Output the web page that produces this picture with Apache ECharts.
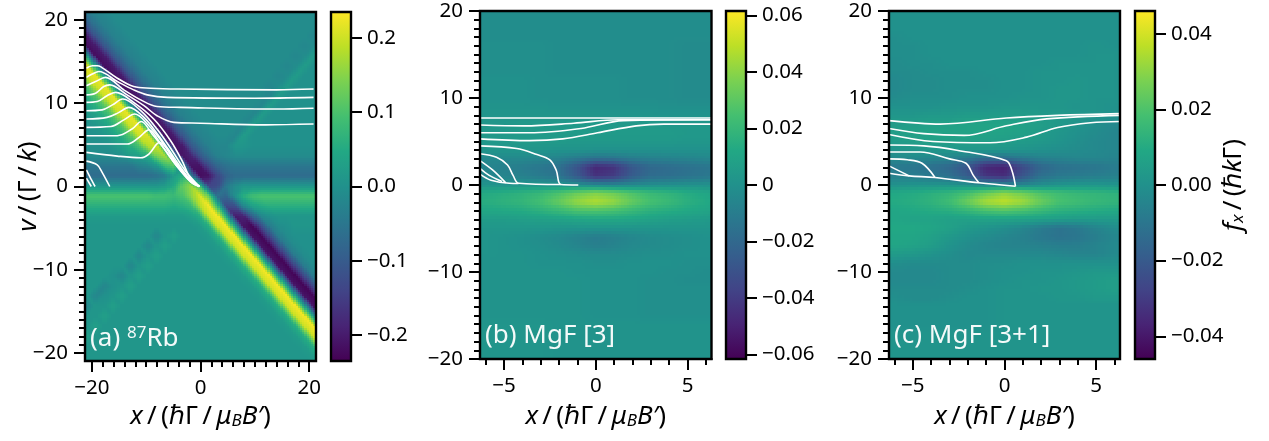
<!DOCTYPE html>
<html><head><meta charset="utf-8">
<style>html,body{margin:0;padding:0;background:#fff}#c{width:1269px;height:441px}</style>
<script src="https://cdn.jsdelivr.net/npm/echarts@6/dist/echarts.min.js"></script>
</head><body><div id="c"></div>
<script>
const viridis=['#440154','#482475','#414487','#355f8d','#2a788e','#21918c','#22a884','#44bf70','#7ad151','#bddf26','#fde725'];

/* (a) 87Rb: force in units of 0.01; rows top to bottom */
const rbX=[-22.4,-20.8,-19.2,-17.6,-16,-14.4,-12.8,-11.2,-9.6,-8,-6.4,-4.8,-3.2,-1.6,0,1.6,3.2,4.8,6.4,8,9.6,11.2,12.8,14.4,16,17.6,19.2,20.8,22.4];
const rbV=[21.6,20.4,19.2,18,16.8,15.6,14.4,13.2,12,10.8,9.6,8.4,7.2,6,4.8,3.6,2.4,1.2,0,-1.2,-2.4,-3.6,-4.8,-6,-7.2,-8.4,-9.6,-10.8,-12,-13.2,-14.4,-15.6,-16.8,-18,-19.2,-20.4,-21.6];
const rbForce=[
[-6,-3,-2,-1,-1,-1,-1,-1,-1,-1,-1,-1,-1,-1,-1,-1,-1,-1,-1,-1,-1,-1,-1,-1,-1,-1,-1,-1,-1],
[-11,-6,-3,-2,-1,-1,-1,-1,-1,-1,-1,-1,-1,-1,-1,-1,-1,-1,-1,-1,-1,-1,-1,-1,-1,-1,-1,-1,-1],
[-20,-11,-6,-3,-2,-1,-1,-1,-1,-1,-1,-1,-1,-1,-1,-1,-1,-1,-1,-1,-1,-1,-1,-1,-1,-1,-1,-1,-2],
[-22,-20,-11,-6,-3,-2,-1,-1,-1,-1,-1,-1,-1,-1,-1,-1,-1,-1,-1,-1,-1,-1,-1,-1,-1,-1,-1,-2,-1],
[3,-22,-20,-11,-6,-3,-2,-1,-1,-1,-1,-1,-1,-1,-1,-1,-1,-1,-1,-1,-1,-1,-1,-1,-1,-1,-2,-1,2],
[22,3,-22,-20,-11,-6,-3,-2,-1,-1,-1,-1,-1,-1,-1,-1,-1,-1,-1,-1,-1,-1,-1,-1,-1,-2,-1,2,0],
[20,22,3,-22,-20,-11,-6,-3,-2,-1,-1,-1,-1,-1,-1,-1,-1,-1,-1,-1,-1,-1,-1,-1,-2,-1,2,0,0],
[11,20,22,3,-22,-20,-11,-6,-3,-2,-1,-1,-1,-1,-1,-1,-1,-1,-1,-1,-1,-1,-1,-2,-1,2,0,0,0],
[6,11,20,22,3,-22,-20,-11,-6,-3,-2,-1,-1,-1,-1,-1,-1,-1,-1,-1,-1,-1,-2,-1,2,0,0,0,0],
[3,6,11,20,22,3,-22,-20,-11,-6,-3,-2,-1,-1,-1,-1,-1,-1,-1,-1,-1,-1,-2,2,0,0,0,0,0],
[1,3,6,11,20,22,3,-22,-20,-11,-6,-3,-2,-1,-1,-1,-1,-1,-1,-1,-1,-2,2,0,0,0,0,0,0],
[0,1,3,6,11,20,22,3,-22,-20,-11,-6,-3,-2,-1,-1,-1,-1,-1,-1,-2,2,0,0,0,0,0,0,0],
[0,0,1,3,6,11,20,22,3,-22,-20,-11,-6,-3,-2,-1,-1,-1,-1,-2,2,0,0,0,0,0,0,0,0],
[0,0,0,1,3,6,11,20,21,3,-22,-20,-11,-6,-3,-2,-1,-1,-2,2,0,0,0,0,0,0,0,0,0],
[-1,0,0,0,1,3,6,10,18,20,2,-22,-20,-11,-6,-3,-2,-2,1,1,0,0,0,0,0,0,0,0,0],
[-1,-1,-1,-1,-1,0,2,3,6,14,17,2,-21,-19,-11,-6,-3,-2,-1,-1,-1,-1,-1,-1,-1,-1,-1,-1,-1],
[-5,-5,-5,-5,-5,-5,-5,-3,-2,1,8,11,0,-21,-21,-13,-8,-6,-5,-5,-5,-5,-5,-5,-5,-5,-5,-5,-5],
[-7,-7,-7,-7,-7,-7,-7,-7,-7,-6,-4,2,6,-3,-22,-21,-14,-9,-7,-7,-7,-7,-7,-7,-7,-7,-7,-7,-7],
[1,1,1,1,1,1,1,1,1,1,2,5,12,16,9,-14,-13,-5,-1,1,1,1,1,1,1,1,1,1,1],
[10,10,10,10,10,10,10,10,10,9,9,8,10,15,21,12,-6,-8,0,6,9,10,10,10,10,10,10,10,10],
[6,6,6,6,6,6,6,6,6,6,6,5,6,8,18,23,8,-13,-12,-2,3,5,6,6,6,6,6,6,6],
[2,2,2,2,2,2,2,2,2,2,2,2,2,3,6,20,23,5,-20,-19,-9,-2,0,1,1,1,1,1,1],
[1,1,1,1,1,1,1,1,1,1,1,1,1,1,2,6,20,23,3,-21,-23,-13,-4,-1,0,1,1,1,1],
[1,1,1,1,1,1,1,1,1,-2,1,3,1,1,1,2,6,20,23,3,-21,-23,-13,-4,-1,0,0,0,0],
[1,1,1,1,1,1,1,1,-2,1,3,1,1,1,1,1,2,6,20,23,3,-21,-23,-13,-4,-1,0,0,0],
[1,1,1,1,1,1,1,-2,1,3,1,1,1,1,1,1,1,2,6,20,23,3,-21,-23,-13,-4,-1,0,0],
[1,1,1,1,1,1,-2,1,3,1,1,1,1,1,1,1,1,1,2,6,20,23,3,-21,-23,-13,-4,-1,0],
[1,1,1,1,0,-2,1,3,1,1,1,1,1,1,1,1,1,1,1,2,6,20,23,3,-21,-23,-13,-4,-1],
[1,1,1,-2,0,1,3,1,1,1,1,1,1,1,1,1,1,1,1,1,2,6,20,23,3,-21,-23,-13,-4],
[1,1,-2,0,1,3,1,1,1,1,1,1,1,1,1,1,1,1,1,1,1,2,6,20,23,3,-21,-23,-13],
[0,-2,1,1,3,1,1,1,1,1,1,1,1,1,1,1,1,1,1,1,1,1,2,6,20,23,3,-21,-23],
[-2,1,1,3,1,1,1,1,1,1,1,1,1,1,1,1,1,1,1,1,1,1,1,2,6,20,23,3,-21],
[1,1,3,1,1,1,1,1,1,1,1,1,1,1,1,1,1,1,1,1,1,1,1,1,2,6,20,23,3],
[1,3,1,1,1,1,1,1,1,1,1,1,1,1,1,1,1,1,1,1,1,1,1,1,1,2,6,20,23],
[1,1,1,1,1,1,1,1,1,1,1,1,1,1,1,1,1,1,1,1,1,1,1,1,1,1,2,6,20],
[1,1,1,1,1,1,1,1,1,1,1,1,1,1,1,1,1,1,1,1,1,1,1,1,1,1,1,2,6],
[1,1,1,1,1,1,1,1,1,1,1,1,1,1,1,1,1,1,1,1,1,1,1,1,1,1,1,1,2]];

/* (b), (c) MgF: force in units of 0.001; v from 20 down to -20 */
const mgfX=[-7,-6,-5,-4,-3,-2,-1,0,1,2,3,4,5,6,7];
const mgfV=[20,19,18,17,16,15,14,13,12,11,10,9,8,7,6,5,4,3,2,1,0,-1,-2,-3,-4,-5,-6,-7,-8,-9,-10,-11,-12,-13,-14,-15,-16,-17,-18,-19,-20];
const mgf3Force=[
[-2,-2,-2,-2,-2,-2,-2,-2,-2,-2,-2,-2,-2,-2,-2],
[-2,-2,-2,-2,-2,-2,-2,-2,-2,-2,-2,-2,-2,-2,-2],
[-2,-2,-2,-2,-2,-2,-2,-2,-2,-2,-2,-2,-2,-2,-2],
[-2,-2,-2,-2,-2,-2,-2,-2,-2,-2,-2,-2,-2,-2,-2],
[-1,-1,-1,-1,-1,-2,-2,-2,-2,-2,-2,-2,-3,-3,-3],
[-1,-1,-1,-1,-1,-2,-2,-2,-2,-2,-2,-2,-3,-3,-3],
[-1,-1,-1,-1,-1,-2,-2,-2,-2,-2,-2,-2,-3,-3,-3],
[-1,-1,-1,-1,-1,-2,-2,-2,-2,-2,-2,-2,-3,-3,-3],
[0,0,0,0,-1,-1,-1,-1,-1,-2,-2,-2,-3,-3,-3],
[0,0,0,0,-1,-1,-1,-1,-1,-2,-2,-2,-3,-3,-3],
[0,0,0,0,-1,-1,-1,-1,-1,-2,-2,-2,-3,-3,-3],
[1,1,1,1,1,0,0,0,0,0,0,-1,-1,-1,-1],
[2,2,2,2,2,2,2,2,2,2,1,1,1,1,1],
[3,3,3,4,4,4,4,4,4,4,4,3,3,3,3],
[4,4,4,5,5,5,5,5,5,5,5,5,4,4,4],
[4,4,4,5,5,5,4,4,4,4,4,4,3,3,3],
[2,2,2,2,2,1,1,0,0,0,0,0,0,0,0],
[-4,-4,-4,-4,-5,-7,-11,-15,-14,-10,-8,-7,-6,-5,-4],
[-6,-6,-8,-10,-13,-16,-30,-48,-44,-28,-20,-18,-16,-14,-12],
[-5,-5,-6,-8,-11,-14,-27,-44,-40,-26,-18,-17,-15,-13,-11],
[0,1,1,2,2,1,-2,-5,-6,-4,-2,-1,0,0,0],
[12,13,15,17,20,26,33,38,34,27,21,18,14,11,9],
[14,15,17,19,24,32,42,47,42,32,25,21,16,13,10],
[10,11,12,13,16,20,25,26,24,20,16,14,12,10,8],
[5,6,6,7,8,9,11,12,12,11,9,7,6,5,4],
[3,3,3,3,3,2,2,2,2,2,2,2,2,2,2],
[2,2,1,0,-2,-4,-7,-10,-8,-5,-3,-2,-1,0,0],
[2,2,1,0,-1,-3,-6,-9,-7,-4,-3,-2,-1,0,0],
[2,2,1,1,0,-1,-2,-3,-3,-2,-1,-1,0,0,0],
[1,1,1,1,0,0,0,-1,-1,0,0,0,-1,-1,-1],
[1,1,1,1,1,1,0,0,0,0,0,-1,-1,-2,-2],
[1,1,1,1,1,1,1,0,0,0,-1,-1,-2,-2,-2],
[1,1,1,1,1,1,1,0,0,0,-1,-1,-1,-1,-1],
[1,1,1,1,1,1,1,0,0,0,-1,-1,-1,-1,-1],
[1,1,1,1,1,1,1,0,0,0,-1,-1,-1,-1,-1],
[1,1,1,1,1,1,1,0,0,0,-1,-1,-1,-1,-1],
[2,2,2,2,2,1,1,1,1,1,1,1,1,1,1],
[2,2,2,2,2,1,1,1,1,1,1,1,1,1,1],
[2,2,2,2,2,1,1,1,1,1,1,1,1,1,1],
[2,2,2,2,2,1,1,1,1,1,1,1,1,1,1],
[2,2,2,2,2,1,1,1,1,1,1,1,1,1,1]];
const mgf31Force=[
[0,0,0,0,0,0,0,0,0,0,0,0,0,0,0],
[0,0,0,0,0,0,0,0,0,0,0,0,0,0,0],
[0,0,0,0,0,0,0,0,0,0,0,0,0,0,0],
[-1,-1,0,0,0,0,0,0,0,0,0,0,0,0,0],
[-1,-1,-1,0,0,0,0,0,0,0,0,0,1,0,0],
[-1,-1,-1,0,0,0,0,0,0,0,0,0,1,1,0],
[-2,-2,-1,-1,0,0,0,0,0,0,1,1,1,1,0],
[-2,-2,-2,-1,-1,-1,0,0,0,1,1,1,1,1,0],
[-3,-3,-2,-2,-1,-1,-1,0,0,1,1,2,1,1,0],
[-3,-3,-2,-2,-1,-1,-1,0,0,1,2,2,1,1,0],
[-2,-2,-1,-1,-1,0,0,0,1,1,2,2,1,1,0],
[0,0,0,0,1,1,1,2,2,2,2,1,1,0,-1],
[2,2,2,3,3,4,4,4,4,3,3,2,1,0,-1],
[4,4,5,6,6,7,7,7,6,5,3,1,-1,-3,-4],
[4,5,6,7,7,7,7,7,6,4,2,0,-2,-4,-5],
[3,4,5,6,6,6,6,5,4,3,1,-1,-3,-4,-5],
[1,1,2,2,2,2,2,2,1,0,-1,-2,-3,-4,-4],
[-3,-3,-3,-4,-5,-8,-13,-13,-9,-6,-5,-4,-4,-5,-5],
[-8,-9,-10,-12,-15,-22,-36,-38,-26,-16,-12,-11,-10,-8,-7],
[-6,-6,-7,-9,-12,-19,-32,-34,-22,-12,-9,-8,-7,-6,-5],
[0,0,1,1,1,0,-3,-5,-4,-1,1,2,2,1,1],
[9,9,10,12,14,18,25,30,26,20,17,15,14,13,12],
[10,10,11,13,17,25,34,37,33,25,19,17,15,14,13],
[8,8,9,10,11,14,18,20,18,15,12,11,10,9,8],
[8,8,7,7,6,6,7,7,7,6,5,4,4,4,4],
[8,9,9,8,6,3,1,-1,-4,-8,-11,-9,-5,-2,0],
[7,8,8,6,3,0,-2,-4,-6,-9,-11,-10,-7,-4,-2],
[7,8,7,5,1,-2,-4,-5,-5,-6,-7,-7,-5,-3,-2],
[3,4,3,1,-1,-3,-3,-3,-3,-3,-4,-5,-5,-3,-1],
[-1,-1,-2,-2,-2,-2,-1,-1,0,0,0,0,0,0,1],
[-2,-3,-3,-3,-2,-2,-1,0,0,1,1,2,3,3,3],
[-2,-3,-3,-3,-2,-2,-1,0,1,1,2,3,4,5,4],
[-2,-2,-2,-2,-2,-1,0,1,1,2,2,3,4,5,4],
[-1,-1,-2,-2,-1,0,0,1,1,1,2,2,3,3,3],
[0,0,0,0,0,0,0,1,1,1,1,1,1,1,1],
[0,0,0,0,0,0,0,1,1,1,1,1,1,1,1],
[0,0,0,0,0,0,0,1,1,1,1,1,1,1,1],
[1,1,1,1,1,1,1,1,1,1,1,1,1,1,1],
[1,1,1,1,1,1,1,1,1,1,1,1,1,1,1],
[1,1,1,1,1,1,1,1,1,1,1,1,1,1,1],
[1,1,1,1,1,1,1,1,1,1,1,1,1,1,1]];

/* trajectories: [x, v] */
const rbTraj=[
[[-21,14.2],[-19.9,14.5],[-19,14.5],[-18.4,14.4],[-15.3,13],[-12.3,12],[-9.2,11.8],[-4,11.7],[14,11.6],[20.8,11.7]],
[[-21,13.1],[-19.9,13.5],[-18.7,13.8],[-15.3,12.6],[-12.3,11.6],[-9.8,11],[-6.1,10.7],[10,10.6],[20.8,10.7]],
[[-21,12.1],[-19.3,12.6],[-17.5,13.1],[-14.1,11.6],[-11,10.4],[-8,9.6],[-3.7,9.5],[14,9.3],[20.8,9.4]],
[[-21,11],[-19.3,11.2],[-17.8,12],[-16.7,12.2],[-13.5,11],[-10.4,9.7],[-8,8.5],[-4.9,7.7],[0,7.6],[12,7.4],[20.8,7.5]],
[[-21,10.1],[-19,10.2],[-17.2,10.9],[-15.6,11.3],[-12.3,10.1],[-8.6,8.1],[-5.5,5.5],[-3.4,3.1],[-1.8,0.9],[-0.2,0]],
[[-21,9.1],[-18.1,9.2],[-16.2,9.8],[-14.3,10.5],[-11,9.1],[-8,6.9],[-5.2,4.3],[-2.8,1.9],[-0.2,0]],
[[-21,8.1],[-17.2,8.3],[-15,8.9],[-13.2,9.5],[-10.4,8.3],[-7.7,6.1],[-4.9,3.5],[-2.5,1.3],[-0.2,0]],
[[-21,7.1],[-16.5,7.2],[-14.1,8],[-12.1,8.7],[-9.5,7.3],[-7,5.3],[-4.6,2.9],[-2.1,0.9],[-0.2,0]],
[[-21,6.1],[-15.3,6.1],[-12.6,6.9],[-10.9,7.8],[-8.9,6.3],[-6.4,4.3],[-4.3,2.4],[-1.8,0.7],[-0.2,0]],
[[-21,5.1],[-13.5,5.1],[-11.3,5.9],[-9.5,6.8],[-7.7,5.5],[-5.8,3.7],[-3.7,1.9],[-1.7,0.5],[-0.2,0]],
[[-21,4.1],[-15.3,3.65],[-11,3.45],[-9.5,3.9],[-7.5,5.3],[-6.1,4.5],[-4.6,2.9],[-3.1,1.5],[-1.5,0.4],[-0.2,0]],
[[-21,3.05],[-19,2.6],[-18.1,1.7],[-16.7,0]],
[[-21,2],[-20.3,1.1],[-19.4,0]],
[[-21,1],[-20.1,0]]];
const mgf3Traj=[
[[-6.3,7.7],[6.3,7.7]],
[[-6.3,6.9],[-3.9,6.8],[-1.2,7.1],[1.2,7.5],[6.3,7.5]],
[[-6.3,6],[-3.6,6],[-0.8,6.5],[1.5,7.4],[6.3,7.5]],
[[-6.3,5.3],[-3.6,5.1],[-1.8,5.3],[0.1,6],[2.2,6.8],[3.7,7],[6.3,7]],
[[-6.3,4.5],[-4.3,4.2],[-3.2,3.5],[-2.5,2.9],[-2.15,1.7],[-1.9,0.05],[-0.95,0]],
[[-6.3,3.6],[-5.4,3.2],[-4.8,2.3],[-4.5,1.1],[-4.2,0.2],[-1.9,0.05]],
[[-6.3,2.8],[-5.6,1.7],[-4.9,0.25]],
[[-6.3,1.9],[-5.8,1.1],[-5.1,0.4]],
[[-6.3,1.25],[-5.7,0.55],[-4.7,0.2],[-4.2,0.18]]];
const mgf31Traj=[
[[-6.3,7.4],[-3.5,7],[0.1,7.7],[2.9,8],[6.3,8.2]],
[[-6.3,6.5],[-4.4,5.9],[-2.2,5.7],[0.1,6.8],[2.3,7.6],[6.3,8]],
[[-6.3,5.8],[-3.9,5],[-0.8,4.85],[1.2,5.5],[2.9,6.6],[4.7,7.15],[6.3,7.3]],
[[-6.3,4.6],[-4.4,4.5],[-2.6,4],[0.1,2.8],[0.4,1.7],[0.6,-0.15]],
[[-6.3,3.8],[-4.6,3.8],[-3,3],[-2.1,2.5],[-1.7,1.1],[-1.4,0.25]],
[[-6.3,3],[-5.3,2.9],[-4.5,2.5],[-3.8,0.9]],
[[-6.3,2.2],[-5.2,1.05]],
[[-6.3,1.35],[-5.2,1.05],[-3.8,0.87],[-1.4,0.25],[0.6,-0.15]]];

/* ticks and labels */
const rbXMajor=[-20,0,20], rbXMinor=[-20,-18,-16,-14,-12,-10,-8,-6,-4,-2,0,2,4,6,8,10,12,14,16,18,20];
const mgfXMajor=[-5,0,5], mgfXMinor=[-6,-5,-4,-3,-2,-1,0,1,2,3,4,5,6];
const yMajor=[-20,-10,0,10,20];
const yMinor=[-20,-19,-18,-17,-16,-15,-14,-13,-12,-11,-10,-9,-8,-7,-6,-5,-4,-3,-2,-1,0,1,2,3,4,5,6,7,8,9,10,11,12,13,14,15,16,17,18,19,20];
const cbTicksA=[-0.2,-0.1,0,0.1,0.2], cbLabelsA=['−0.2','−0.1','0.0','0.1','0.2'];
const cbTicksB=[-0.06,-0.04,-0.02,0,0.02,0.04,0.06], cbLabelsB=['−0.06','−0.04','−0.02','0','0.02','0.04','0.06'];
const cbTicksC=[-0.04,-0.02,0,0.02,0.04], cbLabelsC=['−0.04','−0.02','0.00','0.02','0.04'];

const FONT='"Noto Sans","DejaVu Sans",sans-serif';
const FS=20.5;
const rgb=viridis.map(h=>[parseInt(h.slice(1,3),16),parseInt(h.slice(3,5),16),parseInt(h.slice(5,7),16)]);
function cmap(t){t=Math.max(0,Math.min(1,t))*10;const i=Math.min(9,Math.floor(t)),f=t-i,a=rgb[i],b=rgb[i+1];
  return 'rgb('+Math.round(a[0]+(b[0]-a[0])*f)+','+Math.round(a[1]+(b[1]-a[1])*f)+','+Math.round(a[2]+(b[2]-a[2])*f)+')';}

const grids=[],xAxes=[],yAxes=[],series=[],graphics=[];
const nameRich={
  i:{fontFamily:FONT,fontStyle:'italic',fontSize:26,color:'#000'},
  r:{fontFamily:FONT,fontSize:26,color:'#000'},
  s:{fontFamily:FONT,fontStyle:'italic',fontSize:17,color:'#000',padding:[10,0,0,0]}};
const xName='{i|x}{r|\u2009/\u2009(ℏΓ\u2009/\u2009}{i|μ}{s|B}{i|B′}{r|)}';
const fName='{i|f}{s|x}{r|\u2009/\u2009(ℏ}{i|k}{r|Γ)}';
const vName='{i|v}{r|\u2009/\u2009(Γ\u2009/\u2009}{i|k}{r|)}';
const axLine={show:true,onZero:false,lineStyle:{color:'#000',width:2}};

function panel(o){
  const g=grids.length;
  grids.push({left:o.left,top:o.top,width:o.w,height:o.h,containLabel:false});
  const base={gridIndex:g,type:'value',splitLine:{show:false},axisLine:axLine};
  const xi=xAxes.length;
  xAxes.push(Object.assign({},base,{min:-o.xr,max:o.xr,position:'bottom',
    axisTick:{show:true,length:11,lineStyle:{width:2,color:'#000'},customValues:o.xMajor},
    axisLabel:{show:true,margin:17,fontFamily:FONT,fontSize:FS,color:'#000',customValues:o.xMajor,formatter:v=>String(v).replace('-','−')},
    name:xName,nameLocation:'middle',nameGap:o.xGap,nameMoveOverlap:false,nameTextStyle:{rich:nameRich}}));
  xAxes.push(Object.assign({},base,{min:-o.xr,max:o.xr,position:'bottom',
    axisTick:{show:true,length:6,lineStyle:{width:2,color:'#000'},customValues:o.xMinor},axisLabel:{show:false}}));
  const yi=yAxes.length;
  yAxes.push(Object.assign({},base,{min:-o.yr,max:o.yr,position:'left',
    axisTick:{show:true,length:11,lineStyle:{width:2,color:'#000'},customValues:yMajor},
    axisLabel:{show:true,margin:17,fontFamily:FONT,fontSize:FS,color:'#000',customValues:yMajor,formatter:v=>String(v).replace('-','−')},
    name:o.yName||'',nameLocation:'middle',nameGap:43,nameMoveOverlap:false,nameRotate:90,nameTextStyle:{rich:nameRich}}));
  yAxes.push(Object.assign({},base,{min:-o.yr,max:o.yr,position:'left',
    axisTick:{show:true,length:6,lineStyle:{width:2,color:'#000'},customValues:yMinor},axisLabel:{show:false}}));

  const data=[];
  for(let j=0;j<o.vs.length-1;j++)for(let i=0;i<o.xs.length-1;i++)
    data.push([o.xs[i],o.vs[j],o.xs[i+1],o.vs[j+1],o.F[j][i],o.F[j][i+1],o.F[j+1][i],o.F[j+1][i+1]]);
  const norm=f=>0.5+0.5*(f*o.unit)/o.lim;
  series.push({type:'custom',xAxisIndex:xi,yAxisIndex:yi,coordinateSystem:'cartesian2d',clip:true,silent:true,z:1,
    encode:{x:[0,2],y:[1,3]},data,
    renderItem(params,api){
      const p=api.coord([api.value(0),api.value(1)]),q=api.coord([api.value(2),api.value(3)]);
      const a=api.value(4),b=api.value(5),c=api.value(6),d=api.value(7);
      const w=q[0]-p[0],h=q[1]-p[1],nx=Math.max(1,Math.round(w/o.sub)),ny=Math.max(1,Math.round(h/o.sub));
      const children=[];
      for(let m=0;m<ny;m++)for(let n=0;n<nx;n++){
        const s=(n+.5)/nx,t=(m+.5)/ny;
        /* cell shading: split each cell along whichever diagonal its values vary least on */
        let f;
        if(!o.diag) f=a*(1-s)*(1-t)+b*s*(1-t)+c*(1-s)*t+d*s*t;
        else if(Math.abs(a-d)<=Math.abs(b-c)) f=s>t?a+s*(b-a)+t*(d-b):a+t*(c-a)+s*(d-c);
        else f=s+t<1?a+s*(b-a)+t*(c-a):d+(1-s)*(c-d)+(1-t)*(b-d);
        const x0=Math.floor(p[0]+w*n/nx),x1=Math.ceil(p[0]+w*(n+1)/nx),y0=Math.floor(p[1]+h*m/ny),y1=Math.ceil(p[1]+h*(m+1)/ny);
        children.push({type:'rect',silent:true,shape:{x:x0,y:y0,width:x1-x0,height:y1-y0},style:{fill:cmap(norm(f))}});
      }
      return {type:'group',children};
    }});
  o.traj.forEach(t=>series.push({type:'line',xAxisIndex:xi,yAxisIndex:yi,data:t,showSymbol:false,smooth:0.35,silent:true,z:3,
    lineStyle:{color:'#fff',width:1.6},clip:true}));

  /* colorbar */
  const gc=grids.length;
  grids.push({left:o.cbLeft,top:o.top,width:o.cbW,height:o.h});
  const cx=xAxes.length,cy=yAxes.length;
  xAxes.push({gridIndex:gc,type:'value',min:0,max:1,show:false});
  yAxes.push({gridIndex:gc,type:'value',min:-o.lim,max:o.lim,position:'right',splitLine:{show:false},axisLine:axLine,
    axisTick:{show:true,length:11,lineStyle:{width:2,color:'#000'},customValues:o.cbTicks},
    axisLabel:{show:true,margin:16,fontFamily:FONT,fontSize:FS,color:'#000',customValues:o.cbTicks,
      formatter:v=>{let k=0,best=1e9;o.cbTicks.forEach((u,i)=>{const e=Math.abs(u-v);if(e<best){best=e;k=i;}});return o.cbLabels[k];}},
    name:o.cbName||'',nameLocation:'middle',nameGap:65,nameMoveOverlap:false,nameRotate:90,nameTextStyle:{rich:nameRich}});
  series.push({type:'custom',xAxisIndex:cx,yAxisIndex:cy,coordinateSystem:'cartesian2d',silent:true,z:1,
    encode:{x:0,y:[1,2]},data:[[0,-o.lim,o.lim,1]],
    renderItem(params,api){
      const p=api.coord([0,api.value(2)]),q=api.coord([api.value(3),api.value(1)]);
      return {type:'rect',silent:true,shape:{x:p[0],y:p[1],width:q[0]-p[0],height:q[1]-p[1]},
        style:{fill:new echarts.graphic.LinearGradient(0,1,0,0,viridis.map((c,i)=>({offset:i/10,color:c})))}};
    }});

  /* frames */
  [[o.left,o.w],[o.cbLeft,o.cbW]].forEach(r=>graphics.push({type:'rect',z:100,silent:true,
    shape:{x:r[0],y:o.top,width:r[1],height:o.h},style:{fill:null,stroke:'#000',lineWidth:2.4}}));
  /* panel tag */
  const wh='rgba(255,255,255,0.95)';
  graphics.push({type:'text',z:100,silent:true,left:o.left+5,top:o.top+o.h-36,
    style:{text:o.tag,fill:wh,fontFamily:FONT,fontSize:26,
      rich:{r:{fill:wh,fontFamily:FONT,fontSize:26},u:{fill:wh,fontFamily:FONT,fontSize:17,padding:[0,0,10,0]}}}});
}

panel({left:85,top:12,w:231,h:349,xr:21.25,yr:20.95,xs:rbX,vs:rbV,F:rbForce,unit:0.01,lim:0.235,traj:rbTraj,sub:2,diag:true,
  xMajor:rbXMajor,xMinor:rbXMinor,xGap:42,yName:vName,cbLeft:331,cbW:20,cbTicks:cbTicksA,cbLabels:cbLabelsA,tag:'{r|(a) }{u|87}{r|Rb}'});
panel({left:480,top:11,w:231.5,h:348,xr:6.3,yr:20,xs:mgfX,vs:mgfV,F:mgf3Force,unit:0.001,lim:0.0616,traj:mgf3Traj,sub:2.5,diag:false,
  xMajor:mgfXMajor,xMinor:mgfXMinor,xGap:44,cbLeft:726,cbW:20,cbTicks:cbTicksB,cbLabels:cbLabelsB,tag:'{r|(b) MgF [3]}'});
panel({left:889,top:11,w:231,h:348,xr:6.3,yr:20,xs:mgfX,vs:mgfV,F:mgf31Force,unit:0.001,lim:0.046,traj:mgf31Traj,sub:2.5,diag:false,
  xMajor:mgfXMajor,xMinor:mgfXMinor,xGap:44,cbLeft:1135,cbW:20,cbTicks:cbTicksC,cbLabels:cbLabelsC,cbName:fName,tag:'{r|(c) MgF [3+1]}'});

const chart=echarts.init(document.getElementById('c'),null,{renderer:'canvas'});
chart.setOption({animation:false,backgroundColor:'#fff',grid:grids,xAxis:xAxes,yAxis:yAxes,series,graphic:graphics,tooltip:{show:false}});
</script></body></html>
